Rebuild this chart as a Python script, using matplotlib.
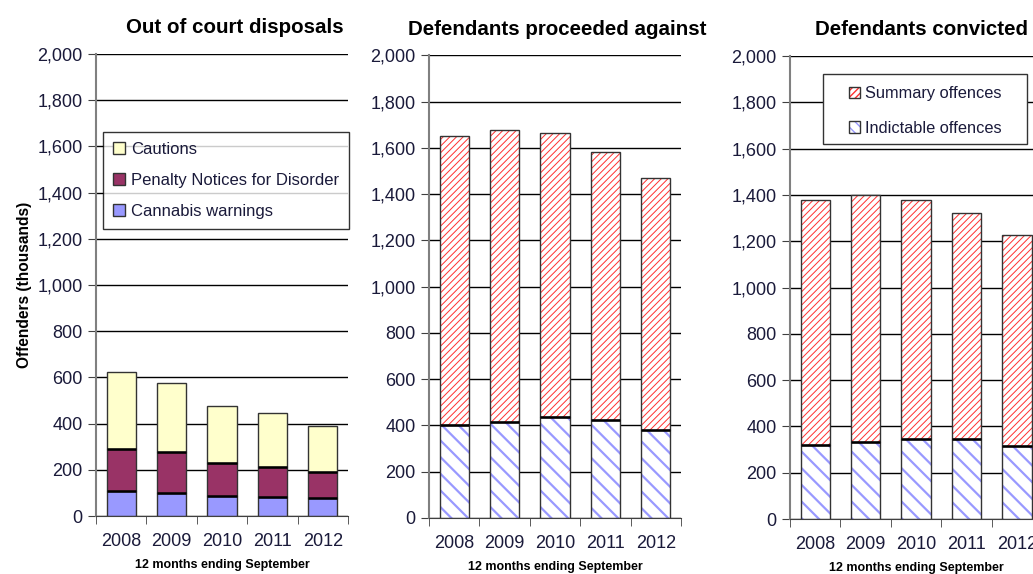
import numpy as np
import matplotlib.pyplot as plt
from matplotlib.patches import Patch, Rectangle
from matplotlib.legend_handler import HandlerTuple

plt.rcParams['font.family'] = ['Liberation Sans', 'DejaVu Sans']

years = ['2008', '2009', '2010', '2011', '2012']

# Out of court disposals (thousands)
cannabis = [107, 100, 87, 82, 78]
pnd_top = [291, 277, 231, 214, 189]
cautions_top = [622, 577, 477, 445, 390]
pnd = [a - b for a, b in zip(pnd_top, cannabis)]
cautions = [a - b for a, b in zip(cautions_top, pnd_top)]

# Defendants proceeded against
proc_indictable = [401, 415, 438, 424, 379]
proc_total = [1653, 1677, 1664, 1580, 1468]
proc_summary = [a - b for a, b in zip(proc_total, proc_indictable)]

# Defendants convicted
conv_indictable = [318, 331, 346, 346, 314]
conv_total = [1377, 1399, 1377, 1322, 1228]
conv_summary = [a - b for a, b in zip(conv_total, conv_indictable)]

tick_col = '#1a1a3a'
red = '#ff3030'
blue = '#9999ff'
bw = 0.58
red_hatch = '/////'
blue_hatch = '\\\\'

fig = plt.figure(figsize=(10.33, 5.74), dpi=100)
ax1 = fig.add_axes([0.0929, 0.101, 0.244, 0.805])
ax2 = fig.add_axes([0.4153, 0.0976, 0.244, 0.806])
ax3 = fig.add_axes([0.7648, 0.0958, 0.244, 0.8066])
x = np.arange(len(years))


def style(ax, title, tx):
    ax.set_ylim(0, 2000)
    ax.set_xlim(-0.5, 4.5)
    ax.set_yticks(range(0, 2001, 200))
    ax.set_yticklabels([f'{v:,}' for v in range(0, 2001, 200)])
    ax.yaxis.grid(True, color='black', linewidth=1)
    ax.set_axisbelow(True)
    for s in ['top', 'right']:
        ax.spines[s].set_visible(False)
    ax.spines['left'].set_color('#808080')
    ax.spines['left'].set_linewidth(1.5)
    ax.spines['bottom'].set_color('#404040')
    ax.set_xticks(x)
    ax.set_xticklabels(years)
    ax.set_xticks(np.arange(-0.5, 5, 1), minor=True)
    ax.tick_params(axis='x', which='major', length=0, pad=12, labelsize=13, labelcolor=tick_col)
    ax.tick_params(axis='x', which='minor', length=6, color='#404040')
    ax.tick_params(axis='y', length=6, color='#404040', labelsize=13, labelcolor=tick_col)
    ax.set_xlabel('12 months ending September', fontsize=9, fontweight='bold', labelpad=7)
    ax.set_title(title, fontsize=14.8, fontweight='bold', x=tx, pad=15)


# panel 1
ax1.bar(x, cannabis, bw, color=blue, edgecolor='#333333', linewidth=1)
ax1.bar(x, pnd, bw, bottom=cannabis, color='#993366', edgecolor='#333333', linewidth=1)
ax1.bar(x, cautions, bw, bottom=pnd_top, color='#ffffcc', edgecolor='#333333', linewidth=1)
ax1.bar(x, [0] * len(x), bw, bottom=cannabis, fill=False, edgecolor='black', linewidth=1.8)
ax1.bar(x, [0] * len(x), bw, bottom=pnd_top, fill=False, edgecolor='black', linewidth=1.8)
style(ax1, 'Out of court disposals', 0.55)
ax1.set_ylabel('Offenders (thousands)', fontsize=11.2, fontweight='bold', labelpad=4)
ax1.legend(handles=[Patch(facecolor='#ffffcc', edgecolor='#333333', label='Cautions'),
                    Patch(facecolor='#993366', edgecolor='#333333', label='Penalty Notices for Disorder'),
                    Patch(facecolor=blue, edgecolor='#333333', label='Cannabis warnings')],
           loc='upper left', bbox_to_anchor=(0.028, 0.831), fontsize=12, frameon=True,
           fancybox=False, edgecolor='black', handlelength=0.7, handleheight=0.7,
           handletextpad=0.4, labelspacing=0.95, borderpad=0.6, borderaxespad=0,
           labelcolor=tick_col)


def hatched(ax, ind, summ):
    with plt.rc_context({'hatch.linewidth': 1.6}):
        ax.bar(x, ind, bw, color='white', edgecolor=blue, hatch=blue_hatch, linewidth=0)
    with plt.rc_context({'hatch.linewidth': 0.7}):
        ax.bar(x, summ, bw, bottom=ind, color='white', edgecolor=red, hatch=red_hatch, linewidth=0)
    ax.bar(x, ind, bw, fill=False, edgecolor='#333333', linewidth=1)
    ax.bar(x, summ, bw, bottom=ind, fill=False, edgecolor='#333333', linewidth=1)
    ax.bar(x, [0] * len(x), bw, bottom=ind, fill=False, edgecolor='black', linewidth=1.8)


hatched(ax2, proc_indictable, proc_summary)
style(ax2, 'Defendants proceeded against', 0.51)

hatched(ax3, conv_indictable, conv_summary)
style(ax3, 'Defendants convicted', 0.52)

with plt.rc_context({'hatch.linewidth': 0.7}):
    h_sum = Patch(facecolor='white', edgecolor=red, hatch=red_hatch, linewidth=0)
with plt.rc_context({'hatch.linewidth': 1.6}):
    h_ind = Patch(facecolor='white', edgecolor=blue, hatch='\\\\\\', linewidth=0)
outline = Patch(fill=False, edgecolor='#333333')
ax3.legend(handles=[(h_sum, outline), (h_ind, outline)],
           labels=['Summary offences', 'Indictable offences'],
           handler_map={tuple: HandlerTuple(ndivide=1, pad=0)},
           loc='upper left', bbox_to_anchor=(0.232, 0.935), fontsize=11.8, frameon=False,
           handlelength=0.7, handleheight=0.7,
           handletextpad=0.3, labelspacing=1.2, borderpad=0, borderaxespad=0,
           labelcolor=tick_col)
# legend frame, wider than matplotlib pads it
ax3.add_patch(Rectangle((0.131, 0.810), 0.809, 0.151, transform=ax3.transAxes,
                        facecolor='white', edgecolor='#333333', linewidth=1, zorder=4))

fig.savefig('out.png', dpi=100)
